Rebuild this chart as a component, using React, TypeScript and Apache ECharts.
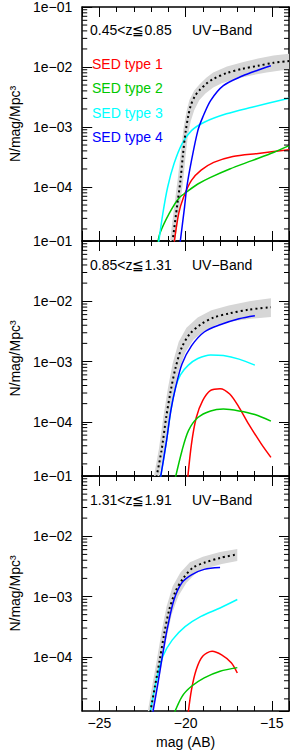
import React, { useEffect, useRef } from 'react';
import * as echarts from 'echarts';

// axis ranges: x = magnitude (AB), y = log10(N / mag / Mpc^3)
const X_MIN = -26;
const X_MAX = -14;
const Y_MIN = -4.9;
const Y_MAX = -1;

const redshiftLabels = ['0.45<z≦0.85', '0.85<z≦1.31', '1.31<z≦1.91'];
const bandLabel = 'UV−Band';
const sedNames = ['SED type 1', 'SED type 2', 'SED type 3', 'SED type 4'];
const sedColors = ['#ff0000', '#00c800', '#00ffff', '#0000ff'];
const xAxisTitle = 'mag (AB)';
const yAxisTitle = 'N/mag/Mpc³';

// ---- Panel 1 (0.45<z<=0.85) : [mag, log10 N]
const p1Total = [[-20.8, -5.0], [-20.5, -4.33], [-20.3, -3.89], [-20.15, -3.45], [-20.0, -3.08], [-19.85, -2.82], [-19.7, -2.64], [-19.45, -2.48], [-19.2, -2.39], [-18.8, -2.28], [-18.4, -2.2], [-17.6, -2.1], [-16.7, -2.03], [-15.8, -1.98], [-14.9, -1.93], [-14.0, -1.9]];
const p1BandUpper = [[-20.95, -5.0], [-20.65, -4.3], [-20.45, -3.85], [-20.28, -3.42], [-20.12, -3.02], [-19.95, -2.74], [-19.78, -2.55], [-19.5, -2.39], [-19.2, -2.29], [-18.8, -2.18], [-18.4, -2.09], [-17.6, -1.99], [-16.7, -1.92], [-15.8, -1.86], [-14.9, -1.81], [-14.0, -1.78]];
const p1BandLower = [[-20.65, -5.0], [-20.35, -4.35], [-20.15, -3.92], [-20.0, -3.48], [-19.86, -3.13], [-19.7, -2.9], [-19.5, -2.72], [-19.2, -2.55], [-18.85, -2.44], [-18.4, -2.34], [-17.9, -2.27], [-17.0, -2.19], [-16.2, -2.14], [-15.3, -2.09], [-14.5, -2.06], [-14.0, -2.04]];
const p1Sed1 = [[-20.7, -5.0], [-20.4, -4.44], [-20.12, -4.17], [-19.66, -3.89], [-19.1, -3.72], [-18.37, -3.59], [-17.26, -3.49], [-15.78, -3.44], [-14.0, -3.38]];
const p1Sed2 = [[-21.65, -5.0], [-21.5, -4.78], [-20.95, -4.44], [-20.4, -4.19], [-19.84, -4.06], [-19.29, -3.95], [-18.55, -3.84], [-17.44, -3.7], [-16.15, -3.56], [-14.87, -3.42], [-14.0, -3.31]];
const p1Sed3 = [[-21.6, -5.0], [-21.32, -4.44], [-21.04, -4.0], [-20.67, -3.61], [-20.21, -3.28], [-19.66, -3.06], [-18.92, -2.92], [-17.63, -2.78], [-16.15, -2.67], [-14.0, -2.52]];
const p1Sed4 = [[-20.35, -5.0], [-20.06, -4.33], [-19.93, -4.0], [-19.66, -3.56], [-19.29, -3.06], [-19.01, -2.84], [-18.55, -2.56], [-17.81, -2.31], [-16.71, -2.15], [-15.78, -2.05], [-15.05, -1.98]];

// ---- Panel 2 (0.85<z<=1.31)
const p2Total = [[-21.75, -5.0], [-21.4, -4.48], [-21.13, -3.93], [-20.86, -3.48], [-20.58, -3.1], [-20.21, -2.76], [-19.75, -2.54], [-19.1, -2.38], [-18.37, -2.27], [-17.44, -2.2], [-16.34, -2.14], [-15.05, -2.1]];
const p2BandUpper = [[-21.9, -5.0], [-21.55, -4.45], [-21.28, -3.9], [-21.02, -3.43], [-20.75, -3.03], [-20.4, -2.67], [-19.95, -2.44], [-19.3, -2.27], [-18.5, -2.15], [-17.5, -2.07], [-16.3, -2.0], [-15.05, -1.95]];
const p2BandLower = [[-21.6, -5.0], [-21.25, -4.5], [-20.98, -3.97], [-20.7, -3.53], [-20.42, -3.17], [-20.02, -2.85], [-19.55, -2.64], [-18.9, -2.49], [-18.2, -2.39], [-17.3, -2.33], [-16.2, -2.29], [-15.05, -2.26]];
const p2Sed1 = [[-19.9, -5.0], [-19.66, -4.37], [-19.38, -3.93], [-19.01, -3.65], [-18.55, -3.48], [-18.0, -3.45], [-17.44, -3.54], [-16.9, -3.76], [-16.34, -4.04], [-15.6, -4.37], [-15.05, -4.59]];
const p2Sed2 = [[-20.65, -5.0], [-20.21, -4.48], [-19.84, -4.15], [-19.29, -3.93], [-18.55, -3.82], [-17.81, -3.79], [-16.9, -3.82], [-15.98, -3.88], [-15.05, -3.99]];
const p2Sed3 = [[-21.5, -5.0], [-21.13, -4.36], [-20.86, -3.82], [-20.58, -3.43], [-20.3, -3.22], [-19.84, -3.06], [-19.29, -2.95], [-18.55, -2.89], [-17.81, -2.9], [-16.9, -2.96], [-15.98, -3.06]];
const p2Sed4 = [[-21.5, -5.0], [-21.13, -4.36], [-20.86, -3.82], [-20.58, -3.43], [-20.21, -3.04], [-19.66, -2.74], [-18.92, -2.51], [-18.0, -2.39], [-16.9, -2.29], [-15.98, -2.24]];

// ---- Panel 3 (1.31<z<=1.91)
const p3Total = [[-22.1, -5.0], [-21.78, -4.49], [-21.5, -4.05], [-21.23, -3.6], [-20.95, -3.22], [-20.58, -2.91], [-20.12, -2.69], [-19.57, -2.52], [-18.92, -2.44], [-18.0, -2.36], [-17.0, -2.3]];
const p3BandUpper = [[-22.25, -5.0], [-21.93, -4.47], [-21.65, -4.02], [-21.38, -3.56], [-21.1, -3.16], [-20.75, -2.83], [-20.3, -2.6], [-19.75, -2.43], [-19.0, -2.34], [-18.0, -2.26], [-17.0, -2.21]];
const p3BandLower = [[-21.95, -5.0], [-21.63, -4.52], [-21.35, -4.08], [-21.08, -3.65], [-20.8, -3.29], [-20.42, -2.99], [-19.95, -2.77], [-19.4, -2.61], [-18.8, -2.53], [-17.9, -2.46], [-17.0, -2.41]];
const p3Sed1 = [[-19.88, -5.0], [-19.66, -4.55], [-19.38, -4.21], [-19.01, -3.99], [-18.46, -3.91], [-17.91, -3.97], [-17.35, -4.1], [-17.0, -4.27]];
const p3Sed2 = [[-20.75, -5.0], [-20.21, -4.66], [-19.66, -4.49], [-18.92, -4.35], [-18.0, -4.24], [-17.0, -4.18]];
const p3Sed3 = [[-22.1, -5.0], [-21.69, -4.38], [-21.32, -3.99], [-20.77, -3.72], [-20.03, -3.5], [-19.11, -3.33], [-18.0, -3.19], [-17.0, -3.05]];
const p3Sed4 = [[-21.95, -5.0], [-21.6, -4.43], [-21.32, -3.94], [-21.04, -3.5], [-20.67, -3.05], [-20.21, -2.77], [-19.66, -2.64], [-18.92, -2.55], [-18.0, -2.52]];

const panels = [
  { total: p1Total, upper: p1BandUpper, lower: p1BandLower, seds: [p1Sed1, p1Sed2, p1Sed3, p1Sed4] },
  { total: p2Total, upper: p2BandUpper, lower: p2BandLower, seds: [p2Sed1, p2Sed2, p2Sed3, p2Sed4] },
  { total: p3Total, upper: p3BandUpper, lower: p3BandLower, seds: [p3Sed1, p3Sed2, p3Sed3, p3Sed4] },
];

const FONT = '"Liberation Sans", Arial, Helvetica, sans-serif';
const GRID_LEFT = 72;
const GRID_WIDTH = 217;
const GRID_TOPS = [6, 241, 476];
const GRID_HEIGHT = 235;

// log-spaced minor tick positions (log10 of k * 10^e, k = 2..9)
const minorTickValues: number[] = [];
for (let e = -5; e <= -2; e++) {
  for (let k = 2; k <= 9; k++) {
    const v = e + Math.log10(k);
    if (v > Y_MIN && v < Y_MAX) minorTickValues.push(v);
  }
}

const fmtX = (v: number) => (v < 0 ? '−' + Math.abs(v) : String(v));
const fmtY = (v: number) => (Number.isInteger(v) ? '1e−0' + Math.abs(v) : '');

export default function App() {
  const ref = useRef<HTMLDivElement>(null);

  useEffect(() => {
    if (!ref.current) return;
    const chart = echarts.init(ref.current, null, { renderer: 'svg' });

    const grid: any[] = [];
    const xAxis: any[] = [];
    const yAxis: any[] = [];
    const series: any[] = [];
    const graphic: any[] = [];

    const axisLine = { show: true, onZero: false, lineStyle: { color: '#000', width: 1.5 } };

    panels.forEach((p, i) => {
      grid.push({ left: GRID_LEFT, top: GRID_TOPS[i], width: GRID_WIDTH, height: GRID_HEIGHT, containLabel: false });
      const last = i === panels.length - 1;
      ['bottom', 'top'].forEach((pos) => {
        const isBottom = pos === 'bottom';
        xAxis.push({
          type: 'value', gridIndex: i, position: pos, min: X_MIN, max: X_MAX, splitNumber: 2,
          axisLine,
          axisTick: { show: true, inside: true, length: 10, lineStyle: { color: '#000', width: 1 } },
          minorTick: { show: true, splitNumber: 5, length: 5, lineStyle: { color: '#000', width: 1 } },
          splitLine: { show: false },
          axisLabel: {
            show: isBottom && last, formatter: fmtX, margin: 5, color: '#000', fontSize: 14, fontFamily: FONT,
            showMinLabel: false, showMaxLabel: false,
          },
          name: isBottom && last ? xAxisTitle : '',
          nameLocation: 'middle', nameGap: 24,
          nameTextStyle: { color: '#000', fontSize: 14, fontFamily: FONT },
        });
      });
      ['left', 'right'].forEach((pos) => {
        const isLeft = pos === 'left';
        yAxis.push({
          type: 'value', gridIndex: i, position: pos, min: Y_MIN, max: Y_MAX, splitNumber: 4,
          axisLine,
          axisTick: { show: true, inside: true, length: 10, lineStyle: { color: '#000', width: 1 } },
          splitLine: { show: false },
          axisLabel: {
            show: isLeft, formatter: fmtY, margin: 10, color: '#000', fontSize: 14, fontFamily: FONT,
            showMinLabel: false,
          },
          name: isLeft ? yAxisTitle : '',
          nameLocation: 'middle', nameGap: 52,
          nameTextStyle: { color: '#000', fontSize: 14, fontFamily: FONT },
        });
      });

      const xi = i * 2;
      const yi = i * 2;

      // uncertainty band around the total model
      series.push({
        type: 'custom', name: 'band', xAxisIndex: xi, yAxisIndex: yi, clip: true, silent: true,
        data: [[X_MIN, Y_MIN]],
        renderItem: (_params: any, api: any) => {
          const pts = [
            ...p.upper.map((d) => api.coord(d)),
            ...p.lower.slice().reverse().map((d) => api.coord(d)),
          ];
          return { type: 'polygon', shape: { points: pts }, style: { fill: '#d6d6d6', stroke: 'none' } };
        },
        z: 1,
      });

      // log-spaced minor ticks on left and right axes
      series.push({
        type: 'custom', name: 'minorTicks', xAxisIndex: xi, yAxisIndex: yi, silent: true, clip: false,
        data: minorTickValues.map((v) => [X_MIN, v]),
        renderItem: (_params: any, api: any) => {
          const v = api.value(1);
          const l = api.coord([X_MIN, v]);
          const r = api.coord([X_MAX, v]);
          const st = { stroke: '#000', lineWidth: 1 };
          return {
            type: 'group',
            children: [
              { type: 'line', shape: { x1: l[0], y1: l[1], x2: l[0] + 5, y2: l[1] }, style: st },
              { type: 'line', shape: { x1: r[0], y1: r[1], x2: r[0] - 5, y2: r[1] }, style: st },
            ],
          };
        },
        z: 5,
      });

      p.seds.forEach((d, k) => {
        series.push({
          type: 'line', name: sedNames[k], xAxisIndex: xi, yAxisIndex: yi, data: d,
          showSymbol: false, symbol: 'none', smooth: 0.3, clip: true,
          lineStyle: { color: sedColors[k], width: 1.5 }, itemStyle: { color: sedColors[k] },
          z: 3,
        });
      });

      series.push({
        type: 'line', name: 'total', xAxisIndex: xi, yAxisIndex: yi, data: p.total,
        showSymbol: false, symbol: 'none', smooth: 0.3, clip: true,
        lineStyle: { color: '#000', width: 2, type: [2, 3] }, itemStyle: { color: '#000' },
        z: 4,
      });

      graphic.push({
        type: 'text', x: 90, y: GRID_TOPS[i] + 24,
        style: { text: redshiftLabels[i], fill: '#000', fontSize: 14, fontFamily: FONT, align: 'left', verticalAlign: 'middle' },
      });
      graphic.push({
        type: 'text', x: 192, y: GRID_TOPS[i] + 24,
        style: { text: bandLabel, fill: '#000', fontSize: 14, fontFamily: FONT, align: 'left', verticalAlign: 'middle' },
      });
    });

    chart.setOption({
      animation: false,
      backgroundColor: '#fff',
      grid, xAxis, yAxis, series, graphic,
      legend: {
        orient: 'vertical', left: 87, top: 57, padding: 0,
        icon: 'none', itemWidth: 0, itemHeight: 14, itemGap: 10.3,
        selectedMode: false,
        textStyle: { fontSize: 14, fontFamily: FONT, lineHeight: 14 },
        data: sedNames.map((n, k) => ({ name: n, textStyle: { color: sedColors[k] } })),
      },
    });

    return () => chart.dispose();
  }, []);

  return <div ref={ref} style={{ position: 'fixed', left: 0, top: 0, width: 291, height: 750, background: '#fff' }} />;
}
